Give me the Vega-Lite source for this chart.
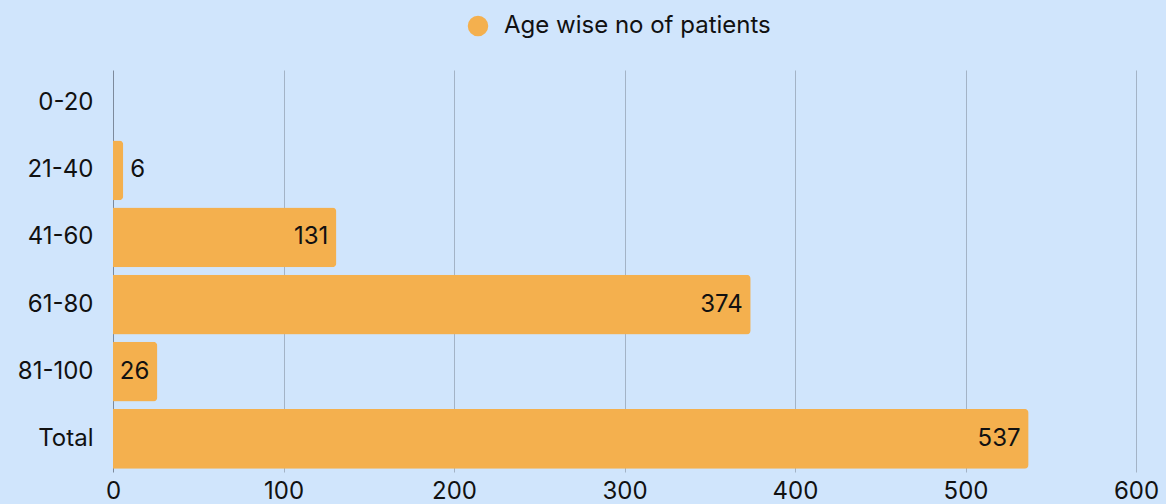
{
  "$schema": "https://vega.github.io/schema/vega-lite/v6.json",
  "width": 1023,
  "height": 402,
  "autosize": {"type": "none"},
  "padding": {"left": 113, "top": 70, "right": 30, "bottom": 32},
  "background": "#d0e5fc",
  "config": {
    "view": {"stroke": null},
    "font": "Inter",
    "axis": {"labelFont": "Inter", "labelFontSize": 24, "labelColor": "#111111"},
    "legend": {"labelFont": "Inter", "labelFontSize": 24, "labelColor": "#111111", "labelLimit": 600}
  },
  "data": {
    "values": [
      {"age": "0-20", "count": 0},
      {"age": "21-40", "count": 6},
      {"age": "41-60", "count": 131},
      {"age": "61-80", "count": 374},
      {"age": "81-100", "count": 26},
      {"age": "Total", "count": 537}
    ]
  },
  "encoding": {
    "y": {
      "field": "age",
      "type": "nominal",
      "sort": null,
      "title": null,
      "scale": {"paddingInner": 0.11, "paddingOuter": 0.05},
      "axis": {"ticks": false, "domain": false, "labelPadding": 20, "grid": false}
    },
    "x": {
      "field": "count",
      "type": "quantitative",
      "title": null,
      "scale": {"domain": [0, 600], "nice": false},
      "axis": {
        "values": [0, 100, 200, 300, 400, 500, 600],
        "ticks": false,
        "domain": false,
        "grid": true,
        "gridColor": {"condition": {"test": "datum.value === 0", "value": "#7d8a9c"}, "value": "#a3b3c6"},
        "gridWidth": 1,
        "labelPadding": 7,
        "labelFlush": false
      }
    }
  },
  "layer": [
    {
      "mark": {"type": "bar", "cornerRadiusEnd": 4},
      "encoding": {
        "color": {
          "datum": "Age wise no of patients",
          "type": "nominal",
          "scale": {"range": ["#f4b04e"]},
          "legend": {
            "title": null,
            "orient": "none",
            "legendX": 353,
            "legendY": -56,
            "symbolType": "circle",
            "symbolSize": 420,
            "symbolStrokeWidth": 0,
            "labelOffset": 14
          }
        }
      }
    },
    {
      "transform": [{"filter": "datum.count >= 20"}],
      "mark": {"type": "text", "align": "right", "dx": -8, "fontSize": 24, "color": "#111111", "font": "Inter"},
      "encoding": {"text": {"field": "count", "type": "quantitative"}}
    },
    {
      "transform": [{"filter": "datum.count > 0 && datum.count < 20"}],
      "mark": {"type": "text", "align": "left", "dx": 7, "fontSize": 24, "color": "#111111", "font": "Inter"},
      "encoding": {"text": {"field": "count", "type": "quantitative"}}
    }
  ]
}
